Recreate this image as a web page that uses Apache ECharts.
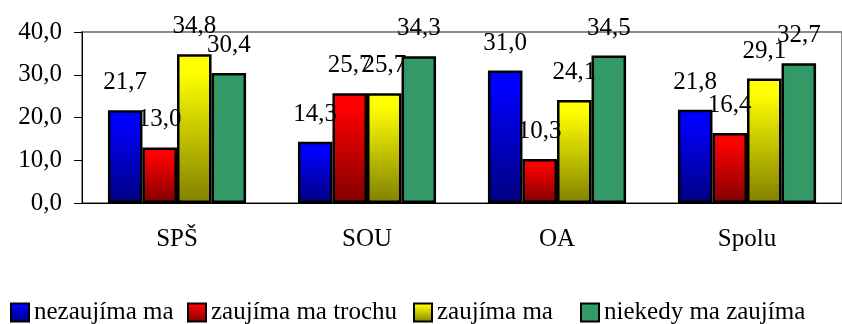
<!DOCTYPE html>
<html>
<head>
<meta charset="utf-8">
<script src="https://cdn.jsdelivr.net/npm/echarts@6/dist/echarts.min.js"></script>
<style>
  html, body { margin: 0; padding: 0; background: #fff; }
  #chart { width: 842px; height: 324px; }
</style>
</head>
<body>
<div id="chart"></div>
<script>
// Schools and survey answers (percent)
const categories = ['SPŠ', 'SOU', 'OA', 'Spolu'];
const seriesNames = ['nezaujíma ma', 'zaujíma ma trochu', 'zaujíma ma', 'niekedy ma zaujíma'];
const nezaujima = [21.7, 14.3, 31.0, 21.8];
const zaujimaTrochu = [13.0, 25.7, 10.3, 16.4];
const zaujima = [34.8, 25.7, 24.1, 29.1];
const niekedy = [30.4, 34.3, 34.5, 32.7];
const yTicks = [0, 10, 20, 30, 40];

const FONT = "Liberation Serif";
const fmt = v => v.toFixed(1).replace('.', ',');

function vgrad(top, bottom) {
  return new echarts.graphic.LinearGradient(0, 0, 0, 1, [
    { offset: 0, color: top },
    { offset: 0.12, color: top },
    { offset: 1, color: bottom }
  ]);
}

const fills = [
  vgrad('#0000FF', '#000080'),
  vgrad('#FF0000', '#800000'),
  vgrad('#FFFF00', '#808000'),
  '#339966'
];
const values = [nezaujima, zaujimaTrochu, zaujima, niekedy];

const series = seriesNames.map((name, i) => ({
  name,
  type: 'bar',
  data: values[i],
  barGap: '0%',
  barCategoryGap: '27.3%',
  itemStyle: { color: fills[i], borderColor: '#000', borderWidth: 2.5 },
  label: {
    show: true,
    position: 'top',
    distance: 15,
    color: '#000',
    fontFamily: FONT,
    fontSize: 25,
    formatter: p => fmt(p.value)
  },
  emphasis: { disabled: true }
}));

// One legend block per series so each entry sits at its own x position
const legendLefts = [5, 182, 408, 575];
const legends = seriesNames.map((name, i) => ({
  data: [name],
  left: legendLefts[i],
  top: 295,
  itemWidth: 18,
  itemHeight: 18,
  icon: 'rect',
  selectedMode: false,
  textStyle: {
    fontFamily: 'serif',
    fontStyle: 'normal',
    fontWeight: 'normal',
    fontSize: 25,
    color: '#000'
  }
}));

const chart = echarts.init(document.getElementById('chart'), null, { renderer: 'canvas' });
chart.setOption({
  animation: false,
  backgroundColor: '#fff',
  grid: {
    left: 82, top: 32, width: 770, bottom: 121,
    show: true, borderColor: '#8c8c8c', borderWidth: 2, backgroundColor: 'transparent'
  },
  legend: legends,
  xAxis: {
    type: 'category',
    data: categories,
    axisLine: { lineStyle: { color: '#000', width: 1 } },
    axisTick: { length: 7, lineStyle: { color: '#000' } },
    axisLabel: { margin: 24, color: '#000', fontFamily: FONT, fontSize: 25 }
  },
  yAxis: {
    type: 'value',
    min: yTicks[0],
    max: yTicks[yTicks.length - 1],
    interval: 10,
    axisLine: { show: true, lineStyle: { color: '#000', width: 1 } },
    axisTick: { show: true, length: 8, lineStyle: { color: '#000' } },
    splitLine: { show: false },
    axisLabel: { margin: 20, color: '#000', fontFamily: FONT, fontSize: 25, formatter: v => fmt(v) }
  },
  series
});
</script>
</body>
</html>
